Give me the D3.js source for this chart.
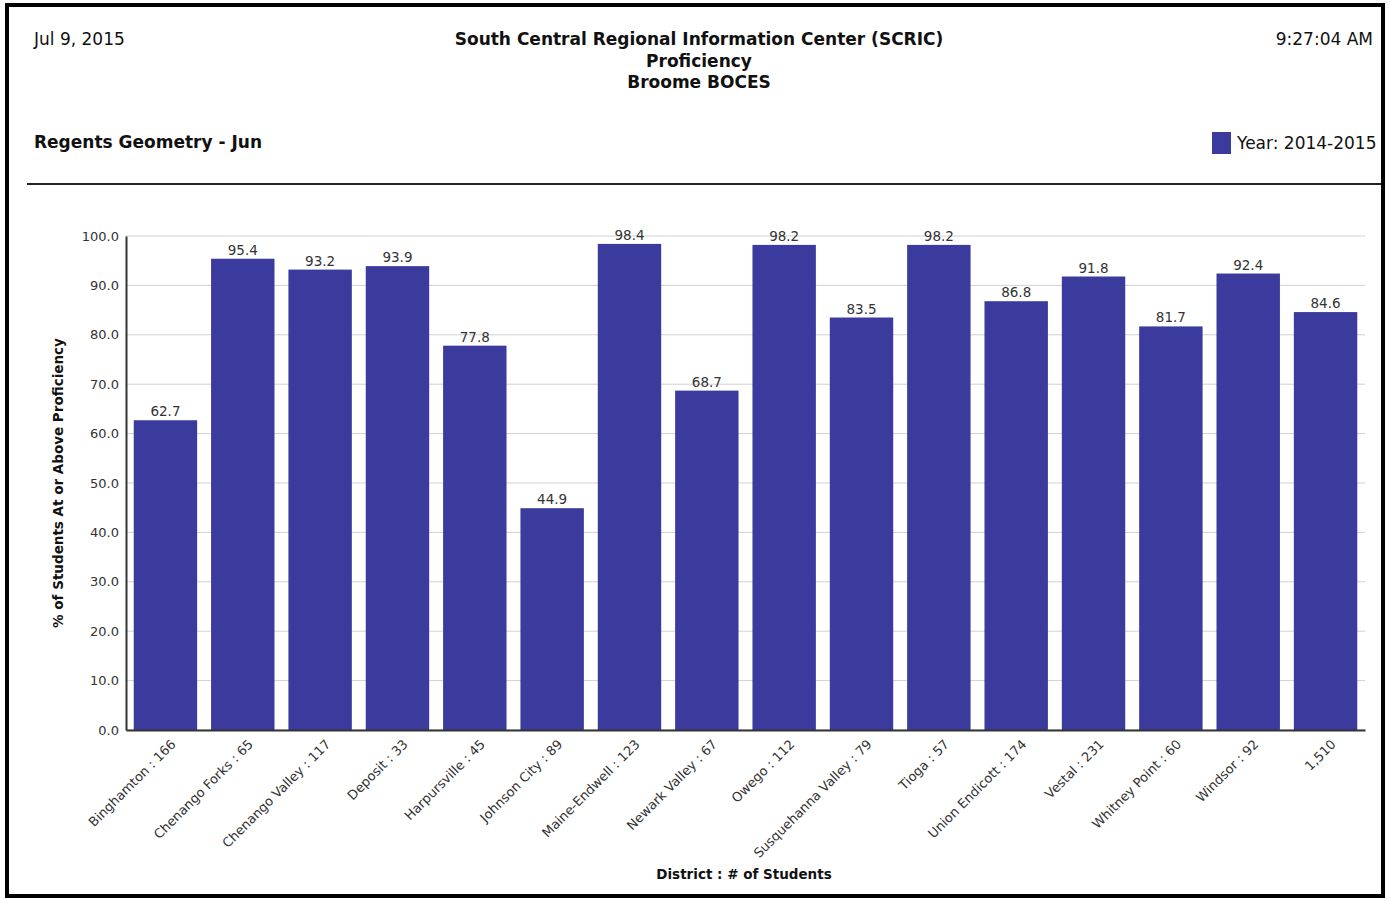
<!DOCTYPE html>
<html>
<head>
<meta charset="utf-8">
<script src="https://cdn.jsdelivr.net/npm/d3@7"></script>
<style>
  body { margin: 0; background: #fff; }
  svg { display: block; font-family: "DejaVu Sans", sans-serif; }
</style>
</head>
<body>
<svg width="1390" height="899"></svg>
<script>
// chart values
var districts = ["Binghamton : 166", "Chenango Forks : 65", "Chenango Valley : 117", "Deposit : 33",
	"Harpursville : 45", "Johnson City : 89", "Maine-Endwell : 123", "Newark Valley : 67",
	"Owego : 112", "Susquehanna Valley : 79", "Tioga : 57", "Union Endicott : 174",
	"Vestal : 231", "Whitney Point : 60", "Windsor : 92", "1,510"];
var proficiency = [62.7, 95.4, 93.2, 93.9, 77.8, 44.9, 98.4, 68.7, 98.2, 83.5, 98.2, 86.8, 91.8, 81.7, 92.4, 84.6];
var yTicks = [0, 10, 20, 30, 40, 50, 60, 70, 80, 90, 100];
var headerLines = ["South Central Regional Information Center (SCRIC)", "Proficiency", "Broome BOCES"];
var seriesName = "Year: 2014-2015";

var svg = d3.select("svg");
var barColor = "#3b3b9e";

// frame
svg.append("rect")
	.attr("x", 7).attr("y", 5).attr("width", 1376).attr("height", 891)
	.attr("fill", "none").attr("stroke", "#000").attr("stroke-width", 4);

// header
svg.append("text").attr("x", 34).attr("y", 45)
	.style("font-size", "17px").style("fill", "#111").text("Jul 9, 2015");
svg.append("text").attr("x", 1373).attr("y", 45).attr("text-anchor", "end")
	.style("font-size", "17px").style("fill", "#111").text("9:27:04 AM");
svg.selectAll(".hdr").data(headerLines).enter().append("text")
	.attr("class", "hdr")
	.attr("x", 699)
	.attr("y", function(d, i) { return 45 + i * 21.5; })
	.attr("text-anchor", "middle")
	.style("font-size", "17px").style("font-weight", "bold").style("fill", "#111")
	.text(function(d) { return d; });

svg.append("text").attr("x", 34).attr("y", 148)
	.style("font-size", "17px").style("font-weight", "bold").style("fill", "#111")
	.text("Regents Geometry - Jun");

// legend
svg.append("rect").attr("x", 1212).attr("y", 132).attr("width", 19).attr("height", 22).attr("fill", barColor);
svg.append("text").attr("x", 1237).attr("y", 149)
	.style("font-size", "17px").style("fill", "#111").text(seriesName);

svg.append("line")
	.attr("x1", 27).attr("x2", 1381).attr("y1", 184).attr("y2", 184)
	.attr("stroke", "#222").attr("stroke-width", 2);

// plot
var margin = { left: 126, right: 1365, top: 236, bottom: 730 };

var x = d3.scaleBand()
	.domain(districts)
	.range([margin.left, margin.right])
	.paddingInner(0.18)
	.paddingOuter(0.1);

var y = d3.scaleLinear()
	.domain([0, 100])
	.range([margin.bottom, margin.top]);

// grid lines
svg.append("g")
	.selectAll("line")
	.data(yTicks)
	.enter().append("line")
	.attr("x1", margin.left).attr("x2", margin.right)
	.attr("y1", function(d) { return y(d); })
	.attr("y2", function(d) { return y(d); })
	.attr("stroke", "#d0d0d0").attr("stroke-width", 1);

svg.append("g")
	.selectAll("rect")
	.data(proficiency)
	.enter().append("rect")
	.attr("x", function(d, i) { return x(districts[i]); })
	.attr("y", function(d) { return y(d); })
	.attr("width", x.bandwidth())
	.attr("height", function(d) { return y(0) - y(d); })
	.attr("fill", barColor);

svg.append("g")
	.selectAll("text")
	.data(proficiency)
	.enter().append("text")
	.attr("x", function(d, i) { return x(districts[i]) + x.bandwidth() / 2; })
	.attr("y", function(d) { return y(d) - 4; })
	.attr("text-anchor", "middle")
	.style("font-size", "13.5px").style("fill", "#333")
	.text(function(d) { return d.toFixed(1); });

// y axis
var yAxis = svg.append("g")
	.attr("transform", "translate(" + margin.left + ",0)")
	.call(d3.axisLeft(y).tickValues(yTicks).tickSize(0).tickPadding(7)
		.tickFormat(function(d) { return d.toFixed(1); }));
yAxis.select(".domain").attr("stroke", "#333").attr("stroke-width", 2);
yAxis.selectAll("text").style("font-size", "13px").style("fill", "#333")
	.style("font-family", "'DejaVu Sans', sans-serif");

// x axis
var xAxis = svg.append("g")
	.attr("transform", "translate(0," + margin.bottom + ")")
	.call(d3.axisBottom(x).tickSize(0).tickSizeOuter(0));
xAxis.select(".domain").attr("stroke", "#333").attr("stroke-width", 2);
xAxis.selectAll("text")
	.style("font-size", "13px").style("fill", "#333")
	.style("font-family", "'DejaVu Sans', sans-serif")
	.attr("text-anchor", "end")
	.attr("dy", "0")
	.attr("transform", "translate(9,13) rotate(-45)");

// axis titles
svg.append("text")
	.attr("transform", "translate(63,483) rotate(-90)")
	.attr("text-anchor", "middle")
	.style("font-size", "13.5px").style("font-weight", "bold").style("fill", "#111")
	.text("% of Students At or Above Proficiency");

svg.append("text")
	.attr("x", 744).attr("y", 879)
	.attr("text-anchor", "middle")
	.style("font-size", "13.5px").style("font-weight", "bold").style("fill", "#111")
	.text("District : # of Students");
</script>
</body>
</html>
